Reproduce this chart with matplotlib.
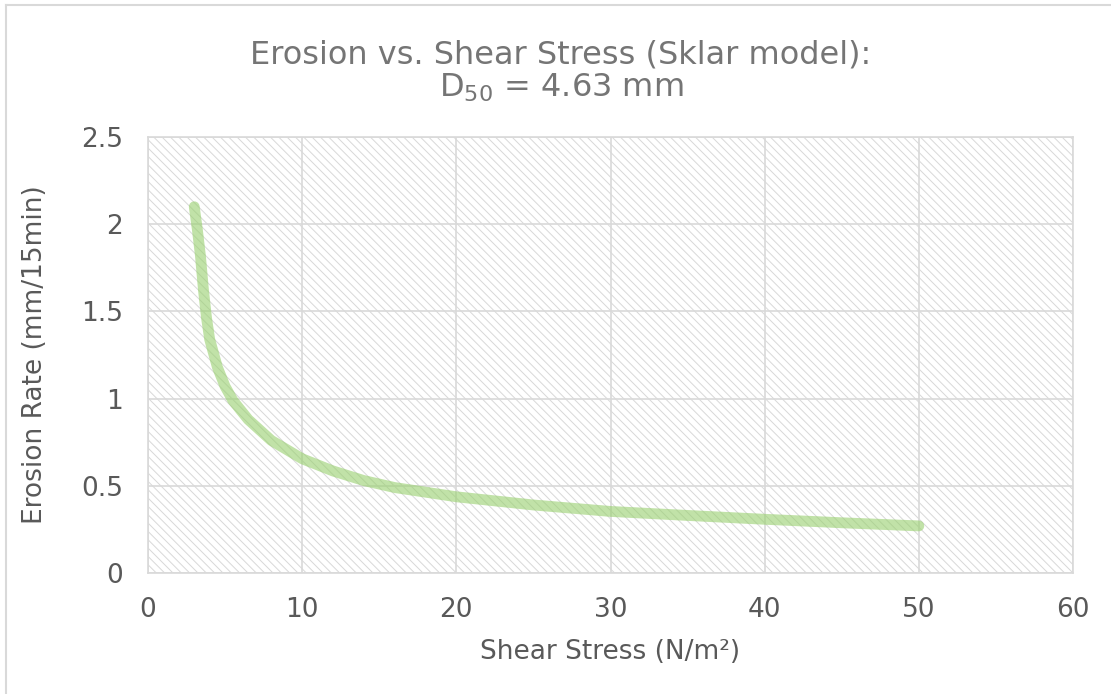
import matplotlib
matplotlib.use("Agg")
import matplotlib.pyplot as plt
from matplotlib.patches import Rectangle
from matplotlib.lines import Line2D

plt.rcParams['font.family'] = ['DejaVu Sans']
plt.rcParams['mathtext.default'] = 'regular'
plt.rcParams['hatch.linewidth'] = 0.7

# values
shear_stress = [3.0, 3.2, 3.4, 3.6, 3.8, 4.0, 4.5, 5.0, 5.5, 6.5, 8, 10, 12, 14,
                16, 20, 25, 30, 35, 40, 45, 50]
erosion_rate = [2.10, 1.97, 1.82, 1.62, 1.46, 1.34, 1.18, 1.07, 0.99, 0.88, 0.76,
                0.655, 0.585, 0.53, 0.49, 0.437, 0.39, 0.353, 0.33, 0.308, 0.288, 0.27]

x_ticks = [0, 10, 20, 30, 40, 50, 60]
y_ticks = [0, 0.5, 1, 1.5, 2, 2.5]
y_tick_labels = ['0', '0.5', '1', '1.5', '2', '2.5']

W, H = 1111, 694
fig = plt.figure(figsize=(W / 100, H / 100), dpi=100)
ax = fig.add_axes([148 / W, 1 - 573 / H, (1073 - 148) / W, (573 - 137) / H])

# hatched plot area
ax.add_patch(Rectangle((0, 0), 1, 1, transform=ax.transAxes, facecolor='white',
                       edgecolor='#d8d8d8', hatch='\\\\\\\\', linewidth=0, zorder=0))

ax.plot(shear_stress, erosion_rate, color='#98d06e', alpha=0.6, lw=7.8,
        solid_capstyle='round', solid_joinstyle='round', zorder=3)

ax.set_xlim(0, 60)
ax.set_ylim(0, 2.5)
ax.set_xticks(x_ticks)
ax.set_yticks(y_ticks)
ax.set_yticklabels(y_tick_labels)
ax.grid(True, color='#d9d9d9', lw=1.2, zorder=1)
ax.set_axisbelow(False)
for s in ax.spines.values():
    s.set_color('#d9d9d9')
    s.set_linewidth(1.2)
ax.tick_params(length=0, labelsize=19, labelcolor='#595959')
ax.tick_params(axis='x', pad=17)
ax.tick_params(axis='y', pad=18)

ax.set_xlabel('Shear Stress (N/m²)', fontsize=19, color='#595959', labelpad=12)
ax.set_ylabel('Erosion Rate (mm/15min)', fontsize=19, color='#595959', labelpad=24)

fig.text(561 / W, 1 - 63 / H, 'Erosion vs. Shear Stress (Sklar model):',
         ha='center', va='baseline', fontsize=23, color='#757575')
fig.text(561 / W, 1 - 97 / H, 'D$_{50}$ = 4.63 mm',
         ha='center', va='baseline', fontsize=23, color='#757575')

# outer chart border (partly cropped)
fig.add_artist(Line2D([6 / W, 1.0], [1 - 5 / H, 1 - 5 / H], color='#d9d9d9', lw=1.5))
fig.add_artist(Line2D([6 / W, 6 / W], [0, 1 - 5 / H], color='#d9d9d9', lw=1.5))

fig.savefig('out.png', dpi=100)
